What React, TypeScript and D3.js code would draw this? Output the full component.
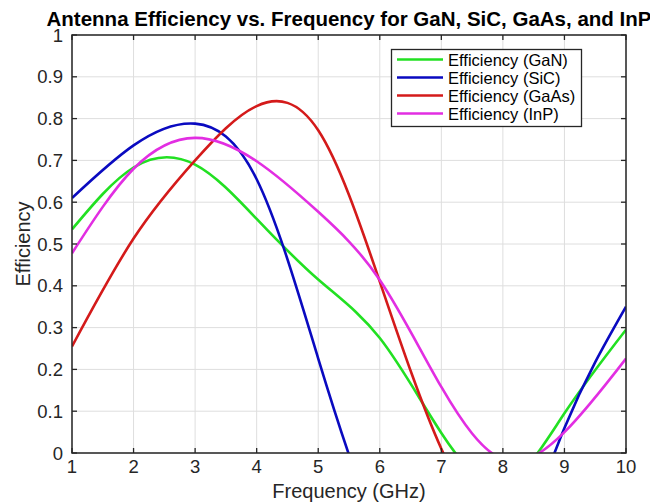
import React from "react";
import * as d3 from "d3";

const freq = [1, 2, 3, 4, 5, 6, 7, 8, 9, 10];
const gan = [0.535, 0.683, 0.69, 0.56, 0.415, 0.275, 0.048, -0.075, 0.095, 0.295];
const sic = [0.61, 0.736, 0.788, 0.655, 0.226, -0.2, -0.4, -0.3, 0.06, 0.35];
const gaas = [0.255, 0.513, 0.7, 0.83, 0.772, 0.41, 0.01, -0.22, -0.28, -0.22];
const inp = [0.478, 0.68, 0.754, 0.698, 0.577, 0.414, 0.158, -0.015, 0.05, 0.226];

const seriesNames = ["Efficiency (GaN)", "Efficiency (SiC)", "Efficiency (GaAs)", "Efficiency (InP)"];
const seriesColors = ["#22e022", "#0a0ac0", "#d41a1a", "#e22ee2"];
const seriesData = [gan, sic, gaas, inp];

const xTicks = [1, 2, 3, 4, 5, 6, 7, 8, 9, 10];
const yTicks = [0, 0.1, 0.2, 0.3, 0.4, 0.5, 0.6, 0.7, 0.8, 0.9, 1];

const W = 650;
const H = 504;
const left = 72;
const right = 626;
const top = 35;
const bottom = 453;
const font = "'Liberation Sans', Arial, Helvetica, sans-serif";
const axisColor = "#262626";

export default function App() {
  const x = d3.scaleLinear().domain([1, 10]).range([left, right]);
  const y = d3.scaleLinear().domain([0, 1]).range([bottom, top]);
  const line = d3
    .line<number>()
    .x((_, i) => x(freq[i]))
    .y((d) => y(d))
    .curve(d3.curveNatural);

  const tickLen = 5;

  return (
    <svg width={W} height={H} style={{ position: "absolute", left: 0, top: 0, background: "#fff" }}>
      <defs>
        <clipPath id="plotClip">
          <rect x={left} y={top} width={right - left} height={bottom - top} />
        </clipPath>
      </defs>
      <rect x={0} y={0} width={W} height={H} fill="#fff" />
      <rect x={left} y={top} width={right - left} height={bottom - top} fill="#fff" />
      {xTicks.map((t) => (
        <line key={"gx" + t} x1={x(t)} x2={x(t)} y1={top} y2={bottom} stroke="#dedede" strokeWidth={1} />
      ))}
      {yTicks.map((t) => (
        <line key={"gy" + t} x1={left} x2={right} y1={y(t)} y2={y(t)} stroke="#dedede" strokeWidth={1} />
      ))}
      <g clipPath="url(#plotClip)">
        {seriesData.map((s, i) => (
          <path key={i} d={line(s) || ""} fill="none" stroke={seriesColors[i]} strokeWidth={2.6} />
        ))}
      </g>
      {xTicks.map((t) => (
        <g key={"tx" + t}>
          <line x1={x(t)} x2={x(t)} y1={bottom} y2={bottom - tickLen} stroke={axisColor} strokeWidth={1.3} />
          <line x1={x(t)} x2={x(t)} y1={top} y2={top + tickLen} stroke={axisColor} strokeWidth={1.3} />
          <text x={x(t)} y={bottom + 20} textAnchor="middle" fontSize={18.5} fill={axisColor} fontFamily={font}>
            {t}
          </text>
        </g>
      ))}
      {yTicks.map((t) => (
        <g key={"ty" + t}>
          <line x1={left} x2={left + tickLen} y1={y(t)} y2={y(t)} stroke={axisColor} strokeWidth={1.3} />
          <line x1={right} x2={right - tickLen} y1={y(t)} y2={y(t)} stroke={axisColor} strokeWidth={1.3} />
          <text x={left - 9} y={y(t) + 6.5} textAnchor="end" fontSize={18.5} fill={axisColor} fontFamily={font}>
            {String(t)}
          </text>
        </g>
      ))}
      <rect x={left} y={top} width={right - left} height={bottom - top} fill="none" stroke={axisColor} strokeWidth={1.5} />
      <text x={(left + right) / 2} y={498} textAnchor="middle" fontSize={20} fill={axisColor} fontFamily={font}>
        Frequency (GHz)
      </text>
      <text
        transform={`translate(30,${(top + bottom) / 2}) rotate(-90)`}
        textAnchor="middle"
        fontSize={20}
        fill={axisColor}
        fontFamily={font}
      >
        Efficiency
      </text>
      <text x={(left + right) / 2} y={25.5} textAnchor="middle" fontSize={20.5} fontWeight="bold" fill="#000" fontFamily={font}>
        Antenna Efficiency vs. Frequency for GaN, SiC, GaAs, and InP
      </text>
      <g>
        <rect x={391.5} y={49.5} width={190} height={77} fill="#fff" stroke={axisColor} strokeWidth={1.3} />
        {seriesNames.map((n, i) => {
          const ry = 59.5 + i * 18;
          return (
            <g key={n}>
              <line x1={397} x2={443} y1={ry} y2={ry} stroke={seriesColors[i]} strokeWidth={2.6} />
              <text x={448} y={ry + 6} fontSize={16.5} fill="#000" fontFamily={font}>
                {n}
              </text>
            </g>
          );
        })}
      </g>
    </svg>
  );
}
